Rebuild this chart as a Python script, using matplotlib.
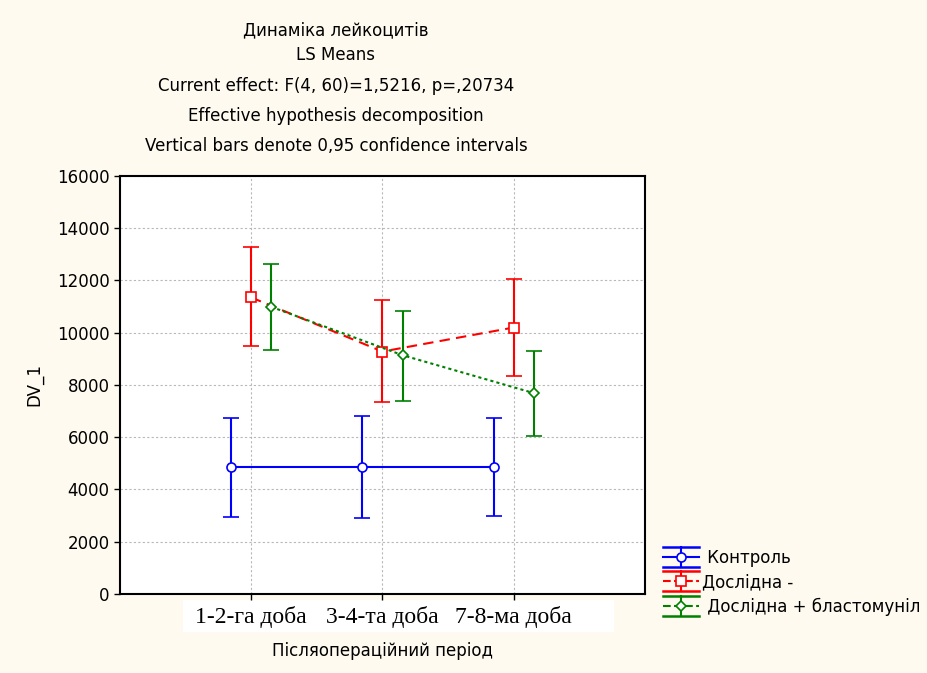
"""LS means of leukocyte counts by post-operative period, STATISTICA style."""

import numpy as np
import matplotlib
matplotlib.use('Agg')
import matplotlib.pyplot as plt
from matplotlib.lines import Line2D
from matplotlib.patches import Rectangle
from matplotlib.legend_handler import HandlerBase

periods = ['1-2-га доба', '3-4-та доба', '7-8-ма доба']
groups = [' Контроль', 'Дослідна -', ' Дослідна + бластомуніл']

control_mean = [4850, 4850, 4850]
control_low = [2950, 2900, 2980]
control_high = [6750, 6830, 6730]

exp_mean = [11350, 9280, 10200]
exp_low = [9490, 7340, 8340]
exp_high = [13270, 11250, 12040]

blast_mean = [10990, 9140, 7690]
blast_low = [9330, 7380, 6050]
blast_high = [12630, 10850, 9310]

y_ticks = [0, 2000, 4000, 6000, 8000, 10000, 12000, 14000, 16000]

title_lines = [
    'Динаміка лейкоцитів',
    'LS Means',
    'Current effect: F(4, 60)=1,5216, p=,20734',
    'Effective hypothesis decomposition',
    'Vertical bars denote 0,95 confidence intervals',
]

BG = '#fefaef'
SANS = 'DejaVu Sans'
SERIF = 'Liberation Serif'
FS = 12

plt.rcParams['font.family'] = SANS


class StatHandler(HandlerBase):
    """Legend key: full-width caps above and below, bar, line and marker."""

    def create_artists(self, legend, orig, xd, yd, width, height, fontsize, trans):
        line, caps, bars = orig.lines
        col = line.get_color()
        yc = height / 2 - yd
        top, bot = yc + 0.6 * fontsize, yc - 0.6 * fontsize
        x0, x1 = -xd, -xd + width
        xm = (x0 + x1) / 2
        arts = [
            Line2D([x0, x1], [top, top], color=col, lw=1.8),
            Line2D([x0, x1], [bot, bot], color=col, lw=1.8),
            Line2D([xm, xm], [bot, top], color=col, lw=1.5),
            Line2D([x0, x1], [yc, yc], color=col, lw=1.5, ls=line.get_linestyle()),
            Line2D([xm], [yc], marker=line.get_marker(), ms=line.get_markersize(),
                   mfc='white', mec=col, mew=1.2, ls='none'),
        ]
        for a in arts:
            a.set_transform(trans)
        return arts


fig = plt.figure(figsize=(9.28, 6.73), dpi=100, facecolor=BG)
ax = fig.add_axes([0.1293, 0.1174, 0.5657, 0.6211])
ax.set_facecolor('white')

x = np.arange(1, len(periods) + 1)
offset = 0.153

series = [
    (control_mean, control_low, control_high, -offset, 'blue', '-', 'o', 6.5),
    (exp_mean, exp_low, exp_high, 0.0, 'red', (0, (5, 3)), 's', 6.5),
    (blast_mean, blast_low, blast_high, offset, 'green', (0, (1.5, 1.5)), 'D', 5),
]

handles = []
for (mean, low, high, off, col, ls, mk, ms), name in zip(series, groups):
    mean = np.array(mean)
    yerr = [mean - np.array(low), np.array(high) - mean]
    h = ax.errorbar(x + off, mean, yerr=yerr, color=col, ls=ls, lw=1.5,
                    marker=mk, ms=ms, mfc='white', mec=col, mew=1.2,
                    capsize=6, capthick=1.8, elinewidth=1.5, label=name,
                    zorder=3)
    handles.append(h)

ax.set_xlim(0, 4)
ax.set_ylim(0, 16000)
ax.set_yticks(y_ticks)
ax.set_yticklabels([str(v) for v in y_ticks], fontsize=FS)
ax.set_xticks(x)
ax.set_xticklabels(periods, fontsize=17, family=SERIF)

# white band behind the category labels
ax.add_patch(Rectangle((0.12, -0.091), 0.821, 0.077, transform=ax.transAxes,
                       facecolor='white', edgecolor='none', clip_on=False, zorder=-1))

ax.grid(True, color='#b8b8b8', ls=(0, (2, 2)), lw=0.8)
ax.set_axisbelow(True)
for sp in ax.spines.values():
    sp.set_linewidth(1.5)
ax.tick_params(direction='out', length=4, width=1)
ax.tick_params(axis='x', pad=5)

ax.set_ylabel('DV_1', fontsize=FS, labelpad=10)
ax.set_xlabel('Післяопераційний період', fontsize=FS, labelpad=10)

y_pos = [0.955, 0.918, 0.872, 0.828, 0.783]
for txt, yy in zip(title_lines, y_pos):
    fig.text(0.362, yy, txt, ha='center', va='center', fontsize=FS)

fig.legend(handles=handles, labels=groups, loc='upper left',
           bbox_to_anchor=(0.705, 0.197), frameon=False, fontsize=FS,
           handlelength=2.2, handletextpad=0.15, labelspacing=0.38,
           borderpad=0, handler_map={type(handles[0]): StatHandler()})

fig.savefig('out.png', dpi=100, facecolor=BG)
